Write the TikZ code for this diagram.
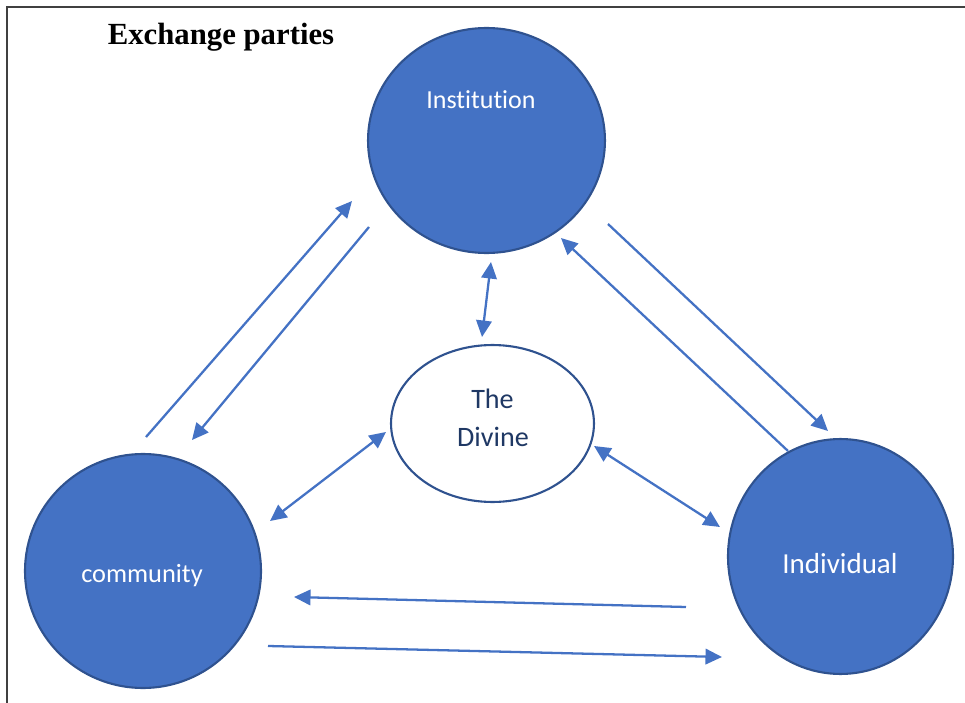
\documentclass[tikz,border=0pt]{standalone}
\usepackage{fontspec}
\setmainfont{Carlito}[Ligatures=CommonOff]
\newfontfamily\titlefont{Liberation Serif}
\usetikzlibrary{shapes.geometric,arrows.meta}
\definecolor{partyblue}{HTML}{4472C4}
\definecolor{partyedge}{HTML}{2F528F}
\definecolor{divinetext}{HTML}{1F3864}
\tikzset{
  party/.style={ellipse,draw=partyedge,fill=partyblue,line width=1.2pt,inner sep=0pt},
  divine/.style={ellipse,draw=partyedge,fill=white,line width=1.2pt,inner sep=0pt},
  partytext/.style={text=white,anchor=base,inner sep=0pt},
  flow/.style={draw=partyblue,line width=1.3pt,-{Triangle[length=0.33cm,width=0.31cm]}},
  swap/.style={draw=partyblue,line width=1.3pt,{Triangle[length=0.33cm,width=0.31cm]}-{Triangle[length=0.33cm,width=0.31cm]}},
}
\begin{document}
\begin{tikzpicture}[x=0.02cm,y=-0.02cm]
    \useasboundingbox (0,0) rectangle (965,703);
    \draw [line width=0.9pt,color=black!75] (7,703) -- (7,7) -- (965,7);
    \node [anchor=base,inner sep=0pt] (title) at (221,45)
      {\titlefont\bfseries\fontsize{17.5}{20}\selectfont Exchange parties};
    % the three parties
    \node [party,minimum width=4.74cm,minimum height=4.5cm] (inst) at (486.5,140.5) {};
    \node [party,minimum width=4.72cm,minimum height=4.68cm] (comm) at (143,571) {};
    \node [party,minimum width=4.5cm,minimum height=4.7cm] (indiv) at (840.5,556.5) {};
    \node [divine,minimum width=4.06cm,minimum height=3.14cm] (div) at (492.5,423.5) {};
    \node [partytext,font=\fontsize{14.8}{17}\selectfont] (instlabel) at (481,109) {Institution};
    \node [partytext,font=\fontsize{15}{17}\selectfont] (commlabel) at (142,582.5) {community};
    \node [partytext,font=\fontsize{16.5}{19}\selectfont] (indivlabel) at (840,573.3) {Individual};
    \node [partytext,text=divinetext,font=\fontsize{16}{19}\selectfont] (divlabel1) at (492.5,408.3) {The};
    \node [partytext,text=divinetext,font=\fontsize{16}{19}\selectfont] (divlabel2) at (493,446.7) {Divine};
    % arrow ends
    \coordinate (ci1) at (146,437);
    \coordinate (ci2) at (352,201);
    \coordinate (ic1) at (369,227);
    \coordinate (ic2) at (192,440);
    \coordinate (iv1) at (608,224);
    \coordinate (iv2) at (828,431);
    \coordinate (vi1) at (788,451);
    \coordinate (vi2) at (561,238);
    \coordinate (id1) at (491,262);
    \coordinate (id2) at (482,337);
    \coordinate (dc1) at (386,432);
    \coordinate (dc2) at (270,521);
    \coordinate (dv1) at (594,446);
    \coordinate (dv2) at (720,527);
    \coordinate (vc1) at (686,607);
    \coordinate (vc2) at (294,597);
    \coordinate (cv1) at (268,646);
    \coordinate (cv2) at (722,657);
    \draw [flow] (ci1) -- (ci2);
    \draw [flow] (ic1) -- (ic2);
    \draw [flow] (iv1) -- (iv2);
    \draw [flow] (vi1) -- (vi2);
    \draw [swap] (id1) -- (id2);
    \draw [swap] (dc1) -- (dc2);
    \draw [swap] (dv1) -- (dv2);
    \draw [flow] (vc1) -- (vc2);
    \draw [flow] (cv1) -- (cv2);
\end{tikzpicture}
\end{document}
